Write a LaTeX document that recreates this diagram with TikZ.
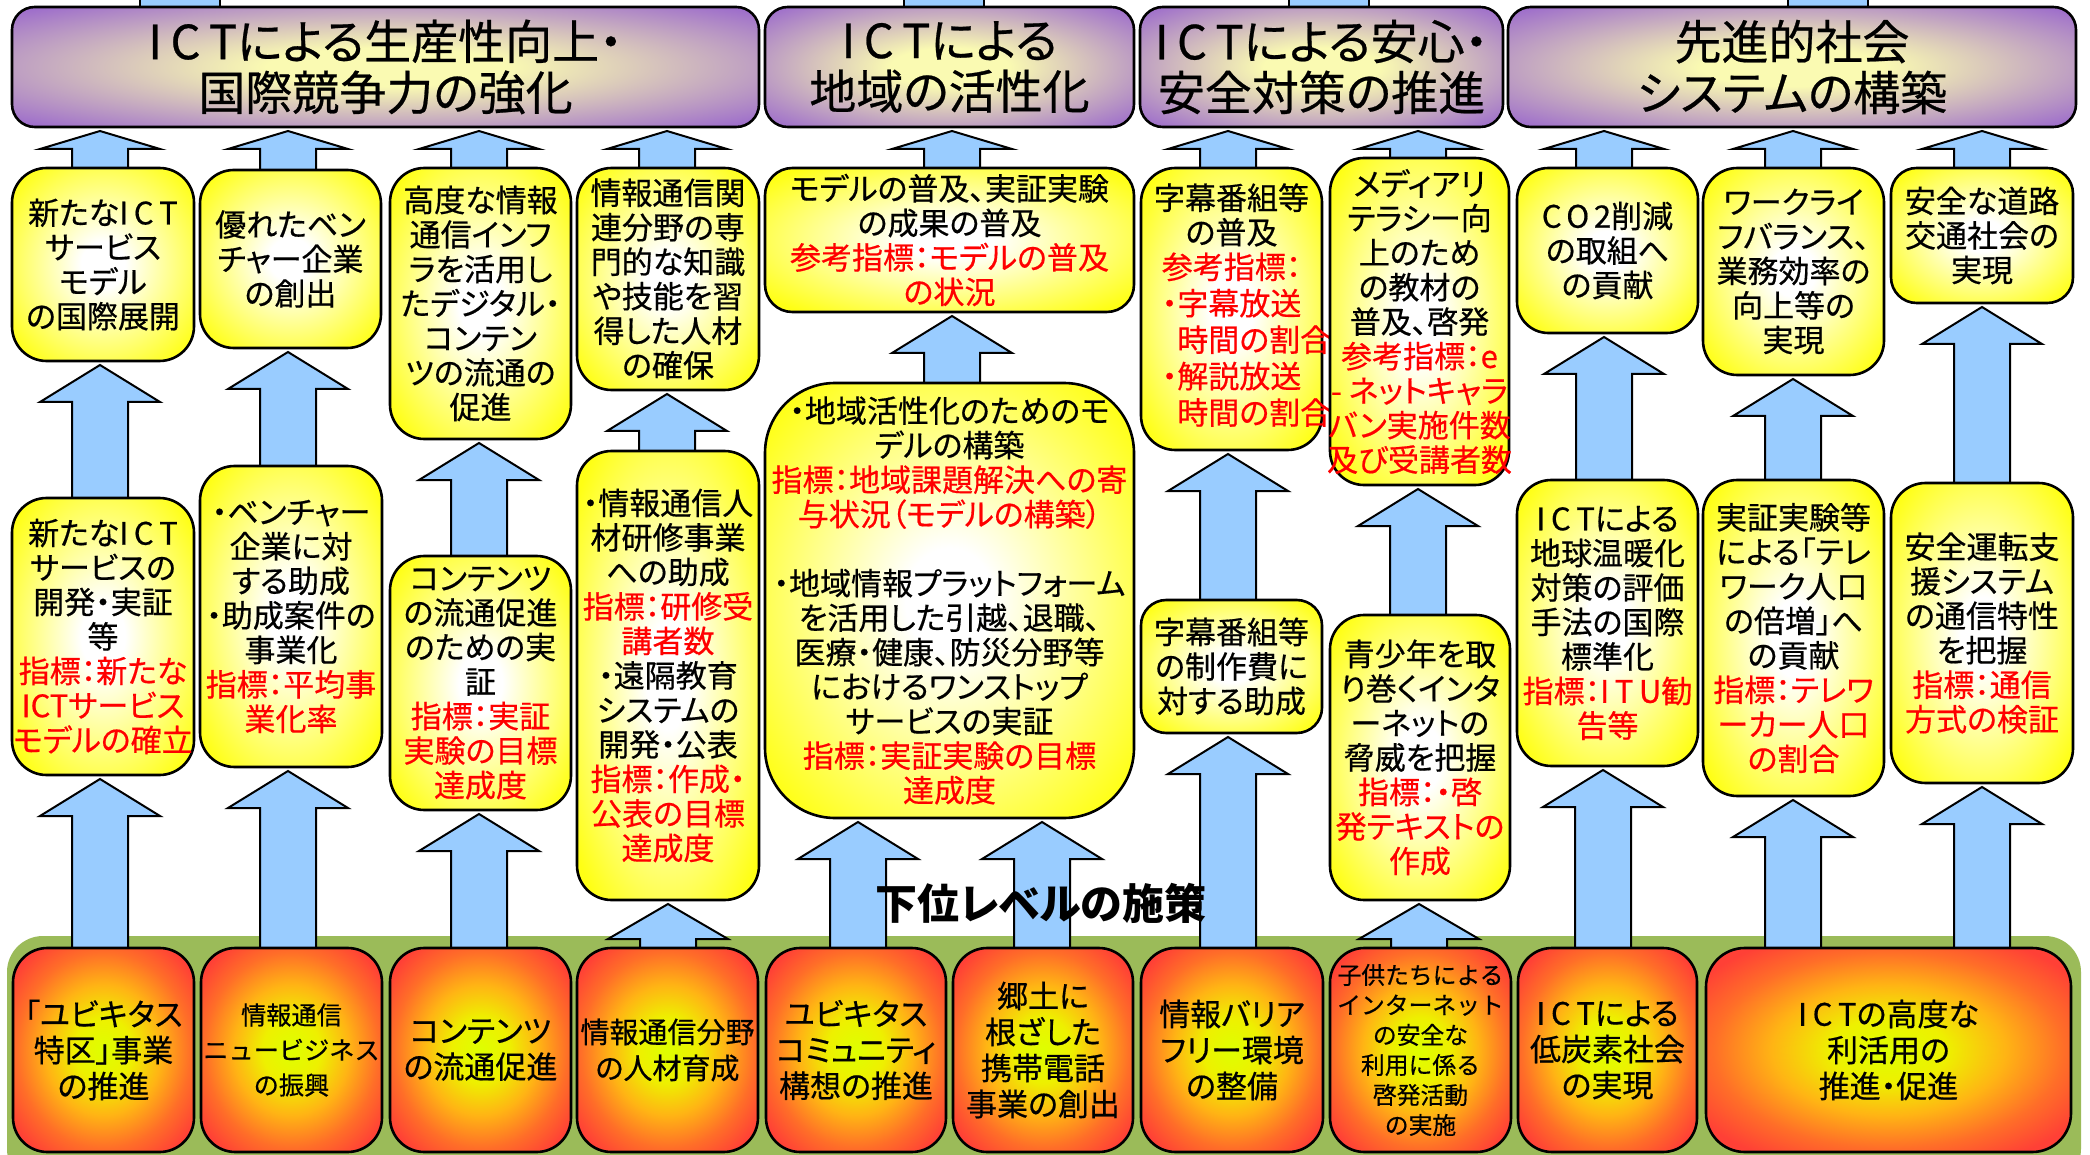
\documentclass[tikz,border=0pt]{standalone}
\usepackage{fontspec}
\newfontfamily\jp{Noto Sans CJK JP}[RawFeature=+palt, FakeBold=0.5]
\newfontfamily\jpm{Noto Sans CJK JP}[FakeBold=0.5]
\newfontfamily\jpb{Noto Sans CJK JP}[RawFeature=+palt]
\usetikzlibrary{calc}
\definecolor{yel}{RGB}{255,255,20}
\definecolor{arrblue}{RGB}{153,204,255}
\definecolor{grn}{RGB}{155,187,89}
\definecolor{pedge}{RGB}{150,98,205}
\definecolor{pcen}{RGB}{250,250,178}
\definecolor{rcen}{RGB}{222,255,0}
\definecolor{rin}{RGB}{238,240,0}
\definecolor{rmid}{RGB}{255,180,20}
\definecolor{rmid2}{RGB}{255,110,40}
\definecolor{redge}{RGB}{255,64,54}
\pgfdeclareradialshading{yshade}{\pgfpoint{0bp}{0bp}}{color(0bp)=(white); color(6bp)=(white); color(32bp)=(yel); color(50bp)=(yel)}
\pgfdeclareradialshading{pshade}{\pgfpoint{0bp}{0bp}}{color(0bp)=(pcen); color(8bp)=(pcen); color(36bp)=(pedge); color(50bp)=(pedge)}
\pgfdeclareradialshading{rshade}{\pgfpoint{0bp}{0bp}}{color(0bp)=(rcen); color(8bp)=(rin); color(16bp)=(rmid); color(24bp)=(rmid2); color(31bp)=(redge); color(50bp)=(redge)}
\pgfdeclarelayer{bg}
\pgfdeclarelayer{arrows}
\pgfsetlayers{bg,arrows,main}
\newcommand\ytxt{\jp\fontsize{15.5pt}{17.25pt}\selectfont}
\newcommand\ptxt{\jp\fontsize{23.5pt}{25.5pt}\selectfont}
\newcommand\rtxt{\jp\fontsize{15.5pt}{18pt}\selectfont}
\newcommand\R[1]{\textcolor{red}{#1}}
\newcommand\ICT{I\kern0.18em C\kern0.18em T}
\newcommand\COtwo{C\kern0.15em O\kern0.15em 2}
\newcommand\ITU{I\kern0.18em T\kern0.18em U}
\newcommand\mkbox[8][]{%
  \pgfmathsetmacro\bw{(#6-#4)/2}%
  \pgfmathsetmacro\bh{(#7-#5)/2}%
  \pgfmathsetmacro\br{min(\bw,\bh)*0.19}%
  \node[#2, minimum width=\bw pt, minimum height=\bh pt, rounded corners=\br pt] (#3) at ({(#4+#6)/2},{(#5+#7)/2}) {};
  \node[#2txt,#1] (#3t) at (#3.center) {#8};}
\newcommand\barrow[4]{%
  \begin{pgfonlayer}{arrows}
  \draw[arr] let \p1=(#2.south), \p2=(#3.north), \p3=(#1,0) in
    (\x3-14pt,\y2-3pt) -- (\x3-14pt,{\y1-2pt-#4*0.5pt}) -- (\x3-30pt,{\y1-2pt-#4*0.5pt})
    -- (\x3,\y1-2pt) -- (\x3+30pt,{\y1-2pt-#4*0.5pt}) -- (\x3+14pt,{\y1-2pt-#4*0.5pt})
    -- (\x3+14pt,\y2-3pt);
  \end{pgfonlayer}}
\newcommand\topshaft[2]{%
  \begin{pgfonlayer}{arrows}
  \draw[arr] let \p1=(#1.north), \p2=(#2) in (\x2-20pt,\y1-4pt) rectangle (\x2+20pt,\y2);
  \end{pgfonlayer}}
\begin{document}
\begin{tikzpicture}[x=0.5pt,y=-0.5pt,
  boxline/.style={draw=black, line width=1.3pt, inner sep=0pt, outer sep=0pt},
  ybox/.style={boxline, shading=yshade},
  pbox/.style={boxline, shading=pshade},
  rbox/.style={boxline, shading=rshade},
  yboxtxt/.style={align=center, inner sep=0pt, font=\ytxt},
  pboxtxt/.style={align=center, inner sep=0pt, font=\ptxt},
  rboxtxt/.style={align=center, inner sep=0pt, font=\rtxt},
  arr/.style={fill=arrblue, draw=black, line width=1pt, line join=miter}]
\useasboundingbox (0,0) rectangle (2090,1155);
\begin{pgfonlayer}{bg}
\fill[white] (0,0) rectangle (2090,1155);
\fill[grn, rounded corners=18pt] (7,936) rectangle (2081,1185);
\end{pgfonlayer}
% top row
\mkbox{pbox}{P1}{12}{7}{759}{127}{\ICT による生産性向上・\\国際競争力の強化}
\mkbox{pbox}{P2}{765}{7}{1134}{127}{\ICT による\\地域の活性化}
\mkbox{pbox}{P3}{1140}{7}{1503}{127}{\ICT による安心・\\安全対策の推進}
\mkbox{pbox}{P4}{1508}{7}{2076}{127}{先進的社会\\システムの構築}
% row A
\mkbox{ybox}{A1}{12}{168}{194}{361}{新たな\ICT\\サービス\\モデル\\の国際展開}
\mkbox{ybox}{A2}{200}{170}{381}{348}{優れたベン\\チャー企業\\の創出}
\mkbox{ybox}{A3}{390}{168}{571}{439}{高度な情報\\通信インフ\\ラを活用し\\たデジタル・\\コンテン\\ツの流通の\\促進}
\mkbox{ybox}{A4}{577}{168}{759}{390}{情報通信関\\連分野の専\\門的な知識\\や技能を習\\得した人材\\の確保}
\mkbox{ybox}{A5}{765}{168}{1134}{312}{モデルの普及、実証実験\\の成果の普及\\\R{参考指標：モデルの普及}\\\R{の状況}}
\mkbox{ybox}{A6}{1141}{168}{1322}{450}{字幕番組等\\の普及\\\color{red}\hspace*{15pt}\begin{tabular}[t]{@{}l@{}}参考指標：\\・字幕放送\\\hphantom{・}時間の割合\\・解説放送\\\hphantom{・}時間の割合\end{tabular}}
\mkbox{ybox}{A7}{1330}{158}{1509}{485}{メディアリ\\テラシー向\\上のため\\の教材の\\普及、啓発\\\R{参考指標：e}\\\R{- ネットキャラ}\\\R{バン実施件数}\\\R{及び受講者数}}
\mkbox{ybox}{A8}{1517}{168}{1698}{333}{\COtwo 削減\\の取組へ\\の貢献}
\mkbox{ybox}{A9}{1703}{168}{1884}{375}{ワークライ\\フバランス、\\業務効率の\\向上等の\\実現}
\mkbox{ybox}{A10}{1891}{168}{2073}{303}{安全な道路\\交通社会の\\実現}
% row B
\mkbox{ybox}{B1}{12}{498}{194}{775}{新たな\ICT\\サービスの\\開発・実証\\等\\\R{指標：新たな}\\\R{ICTサービス}\\\R{モデルの確立}}
\mkbox{ybox}{B2}{200}{466}{382}{767}{・ベンチャー\\企業に対\\する助成\\・助成案件の\\事業化\\\R{指標：平均事}\\\R{業化率}}
\mkbox{ybox}{B3}{390}{556}{571}{810}{コンテンツ\\の流通促進\\のための実\\証\\\R{指標：実証}\\\R{実験の目標}\\\R{達成度}}
\mkbox{ybox}{B4}{577}{451}{759}{900}{・情報通信人\\材研修事業\\への助成\\\R{指標：研修受}\\\R{講者数}\\・遠隔教育\\システムの\\開発・公表\\\R{指標：作成・}\\\R{公表の目標}\\\R{達成度}}
\mkbox{ybox}{B5}{765}{383}{1134}{818}{・地域活性化のためのモ\\デルの構築\\\R{指標：地域課題解決への寄}\\\R{与状況（モデルの構築）}\\[17.25pt]・地域情報プラットフォーム\\を活用した引越、退職、\\医療・健康、防災分野等\\におけるワンストップ\\サービスの実証\\\R{指標：実証実験の目標}\\\R{達成度}}
\mkbox{ybox}{B6}{1141}{600}{1322}{733}{字幕番組等\\の制作費に\\対する助成}
\mkbox{ybox}{B7}{1330}{615}{1510}{900}{青少年を取\\り巻くインタ\\ーネットの\\脅威を把握\\\R{指標：・啓}\\\R{発テキストの}\\\R{作成}}
\mkbox{ybox}{B8}{1517}{480}{1698}{766}{\ICT による\\地球温暖化\\対策の評価\\手法の国際\\標準化\\\R{指標：\ITU 勧}\\\R{告等}}
\mkbox{ybox}{B9}{1703}{480}{1884}{796}{実証実験等\\による「テレ\\ワーク人口\\の倍増」へ\\の貢献\\\R{指標：テレワ}\\\R{ーカー人口}\\\R{の割合}}
\mkbox{ybox}{B10}{1891}{483}{2073}{783}{安全運転支\\援システム\\の通信特性\\を把握\\\R{指標：通信}\\\R{方式の検証}}
% row C
\mkbox{rbox}{C1}{13}{948}{194}{1152}{「ユビキタス\\特区」事業\\の推進}
\mkbox[font={\jpm\fontsize{12.6pt}{17.5pt}\selectfont}]{rbox}{C2}{201}{948}{382}{1152}{情報通信\\ニュービジネス\\の振興}
\mkbox{rbox}{C3}{390}{948}{571}{1152}{コンテンツ\\の流通促進}
\mkbox[font={\jp\fontsize{14.5pt}{18pt}\selectfont}]{rbox}{C4}{577}{948}{758}{1152}{情報通信分野\\の人材育成}
\mkbox{rbox}{C5}{766}{948}{946}{1152}{ユビキタス\\コミュニティ\\構想の推進}
\mkbox{rbox}{C6}{953}{948}{1133}{1152}{郷土に\\根ざした\\携帯電話\\事業の創出}
\mkbox{rbox}{C7}{1141}{948}{1323}{1152}{情報バリア\\フリー環境\\の整備}
\mkbox[font={\jpm\fontsize{11.9pt}{15pt}\selectfont}]{rbox}{C8}{1330}{948}{1511}{1152}{子供たちによる\\インターネット\\の安全な\\利用に係る\\啓発活動\\の実施}
\mkbox{rbox}{C9}{1518}{948}{1697}{1152}{\ICT による\\低炭素社会\\の実現}
\mkbox{rbox}{C10}{1706}{948}{2071}{1152}{\ICT の高度な\\利活用の\\推進・促進}
% label
\node[font={\jpb\bfseries\fontsize{21pt}{24pt}\selectfont}] (lbl) at (1041,903) {下位レベルの施策};
% partial arrows leaving the top
\coordinate (T1) at (180,-20);
\coordinate (T2) at (944,-20);
\coordinate (T3) at (1329,-20);
\coordinate (T4) at (1828,-20);
\topshaft{P1}{T1}
\topshaft{P2}{T2}
\topshaft{P3}{T3}
\topshaft{P4}{T4}
% arrows row 1
\barrow{100}{P1}{A1}{18}
\barrow{288}{P1}{A2}{18}
\barrow{479}{P1}{A3}{18}
\barrow{667}{P1}{A4}{18}
\barrow{952}{P2}{A5}{18}
\barrow{1228}{P3}{A6}{18}
\barrow{1418}{P3}{A7}{18}
\barrow{1604}{P4}{A8}{18}
\barrow{1793}{P4}{A9}{18}
\barrow{1982}{P4}{A10}{18}
% arrows row 2
\barrow{100}{A1}{B1}{37}
\barrow{288}{A2}{B2}{37}
\barrow{479}{A3}{B3}{37}
\barrow{667}{A4}{B4}{37}
\barrow{952}{A5}{B5}{37}
\barrow{1228}{A6}{B6}{37}
\barrow{1418}{A7}{B7}{37}
\barrow{1604}{A8}{B8}{37}
\barrow{1793}{A9}{B9}{37}
\barrow{1982}{A10}{B10}{37}
% arrows row 3
\barrow{100}{B1}{C1}{37}
\barrow{288}{B2}{C2}{37}
\barrow{479}{B3}{C3}{37}
\barrow{668}{B4}{C4}{35}
\barrow{858}{B5}{C5}{37}
\barrow{1042}{B5}{C6}{37}
\barrow{1228}{B6}{C7}{37}
\barrow{1419}{B7}{C8}{35}
\barrow{1603}{B8}{C9}{37}
\barrow{1793}{B9}{C10}{37}
\barrow{1982}{B10}{C10}{37}
\end{tikzpicture}
\end{document}
